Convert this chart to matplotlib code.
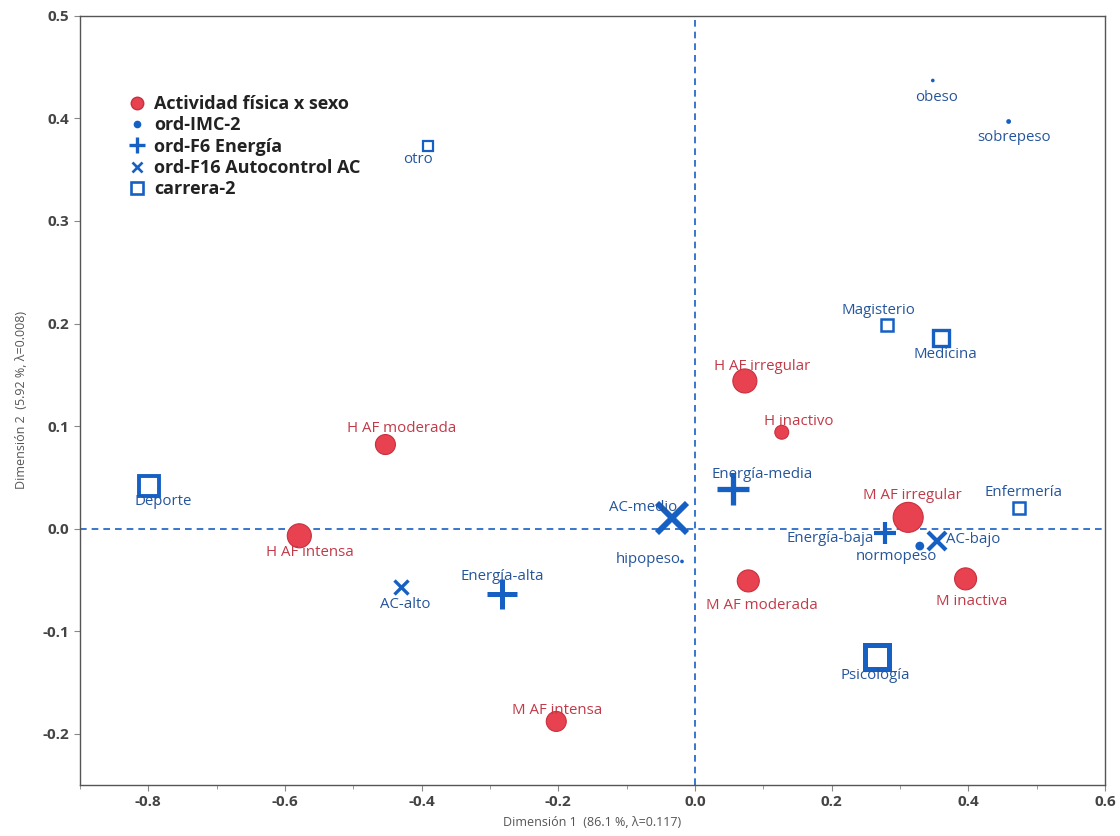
import numpy as np
import matplotlib.pyplot as plt
from matplotlib.lines import Line2D
from matplotlib.ticker import MultipleLocator

plt.rcParams['font.family'] = ['Open Sans', 'DejaVu Sans']

red = '#e8414f'
red_txt = '#c23a48'
blue = '#1660c4'
blue_txt = '#25559c'

# Actividad física x sexo
af_names = ['H AF intensa', 'H AF moderada', 'H AF irregular', 'H inactivo',
            'M AF irregular', 'M AF moderada', 'M inactiva', 'M AF intensa']
af_x = [-0.579, -0.453, 0.073, 0.127, 0.312, 0.078, 0.396, -0.203]
af_y = [-0.007, 0.082, 0.144, 0.094, 0.011, -0.051, -0.049, -0.188]

# ord-IMC-2
imc_names = ['obeso', 'sobrepeso', 'hipopeso', 'normopeso']
imc_x = [0.348, 0.459, -0.019, 0.329]
imc_y = [0.437, 0.397, -0.032, -0.017]

# ord-F6 Energía
en_names = ['Energía-media', 'Energía-baja', 'Energía-alta']
en_x = [0.056, 0.278, -0.282]
en_y = [0.039, -0.004, -0.064]

# ord-F16 Autocontrol AC
ac_names = ['AC-medio', 'AC-bajo', 'AC-alto']
ac_x = [-0.034, 0.354, -0.430]
ac_y = [0.010, -0.012, -0.057]

# carrera-2
car_names = ['otro', 'Deporte', 'Magisterio', 'Medicina', 'Enfermería', 'Psicología']
car_x = [-0.391, -0.799, 0.281, 0.360, 0.474, 0.266]
car_y = [0.373, 0.042, 0.199, 0.186, 0.020, -0.125]

# marker sizes and label offsets (pixels)
af_size = [300, 207, 300, 100, 467, 251, 251, 207]
af_off = [(11, -17), (16, 16), (17, 14), (17, 11), (4, 22), (14, -25), (6, -23), (1, 11)]
imc_size = [7, 12, 7, 40]
imc_off = [(4, -17), (5, -16), (-34, 2), (-23, -10)]
en_ms = [(23, 3.8), (16, 3.0), (21, 3.6)]
en_off = [(29, 14), (-55, -6), (0, 18)]
ac_ms = [(21, 4.2), (13, 3.0), (10, 2.4)]
ac_off = [(-29, 11), (36, 1), (4, -17)]
car_ms = [(7, 1.6), (14, 2.8), (8.5, 1.8), (11, 2.4), (9, 1.8), (17, 3.6)]
car_off = [(-10, -13), (14, -16), (-9, 14), (4, -17), (5, 16), (-2, -19)]

fig = plt.figure(figsize=(11.2, 8.36), dpi=100)
ax = fig.add_axes([0.0714, 0.061, 0.9152, 0.920])

ax.axhline(0, color=blue, lw=1.2, ls=(0, (4, 3)), zorder=1)
ax.axvline(0, color=blue, lw=1.2, ls=(0, (4, 3)), zorder=1)


def label(x, y, txt, off, color):
    ax.annotate(txt, (x, y), xytext=off, textcoords='offset pixels',
                ha='center', va='center', fontsize=10.8, color=color, zorder=5)


ax.scatter(af_x, af_y, s=af_size, color=red, edgecolor='#c8303e', lw=0.8, zorder=3)
for x, y, t, o in zip(af_x, af_y, af_names, af_off):
    label(x, y, t, o, red_txt)

ax.scatter(imc_x, imc_y, s=imc_size, color=blue, lw=0, zorder=3)
for x, y, t, o in zip(imc_x, imc_y, imc_names, imc_off):
    label(x, y, t, o, blue_txt)

for x, y, t, o, (ms, mw) in zip(en_x, en_y, en_names, en_off, en_ms):
    ax.plot(x, y, marker='+', ms=ms, mew=mw, color=blue, zorder=3)
    label(x, y, t, o, blue_txt)

for x, y, t, o, (ms, mw) in zip(ac_x, ac_y, ac_names, ac_off, ac_ms):
    ax.plot(x, y, marker='x', ms=ms, mew=mw, color=blue, zorder=3)
    label(x, y, t, o, blue_txt)

for x, y, t, o, (ms, mw) in zip(car_x, car_y, car_names, car_off, car_ms):
    ax.plot(x, y, marker='s', ms=ms, mew=mw, mfc='white', mec=blue, zorder=3)
    label(x, y, t, o, blue_txt)

ax.set_xlim(-0.9, 0.6)
ax.set_ylim(-0.25, 0.5)
ax.xaxis.set_major_locator(MultipleLocator(0.2))
ax.xaxis.set_minor_locator(MultipleLocator(0.1))
ax.yaxis.set_major_locator(MultipleLocator(0.1))
ax.tick_params(axis='both', which='both', direction='out', color='#888888',
               labelcolor='#444444', labelsize=11)
ax.tick_params(which='major', length=4)
ax.tick_params(which='minor', length=3)
ax.set_xticklabels([f'{v:.1f}' for v in ax.get_xticks()], fontweight='bold')
ax.set_yticklabels([f'{v:.1f}' for v in ax.get_yticks()], fontweight='bold')
for s in ax.spines.values():
    s.set_color('#555555')
    s.set_linewidth(1.0)

ax.set_xlabel('Dimensión 1  (86.1 %, λ=0.117)', fontsize=9, color='#555555', labelpad=5)
ax.set_ylabel('Dimensión 2  (5.92 %, λ=0.008)', fontsize=9, color='#555555', labelpad=11)

handles = [
    Line2D([], [], ls='', marker='o', ms=9, color=red, mec='#c8303e'),
    Line2D([], [], ls='', marker='o', ms=4.5, color=blue),
    Line2D([], [], ls='', marker='+', ms=12, mew=2.4, color=blue),
    Line2D([], [], ls='', marker='x', ms=7.5, mew=1.9, color=blue),
    Line2D([], [], ls='', marker='s', ms=8.5, mew=1.9, mfc='white', mec=blue),
]
names = ['Actividad física x sexo', 'ord-IMC-2', 'ord-F6 Energía',
         'ord-F16 Autocontrol AC', 'carrera-2']
leg = ax.legend(handles, names, loc='upper left', bbox_to_anchor=(0.031, 0.918),
                frameon=False, handlelength=1.0, handletextpad=0.45,
                labelspacing=0.18, prop={'weight': 'bold', 'size': 13})
for t in leg.get_texts():
    t.set_color('#222222')

fig.savefig('out.png', dpi=100)
